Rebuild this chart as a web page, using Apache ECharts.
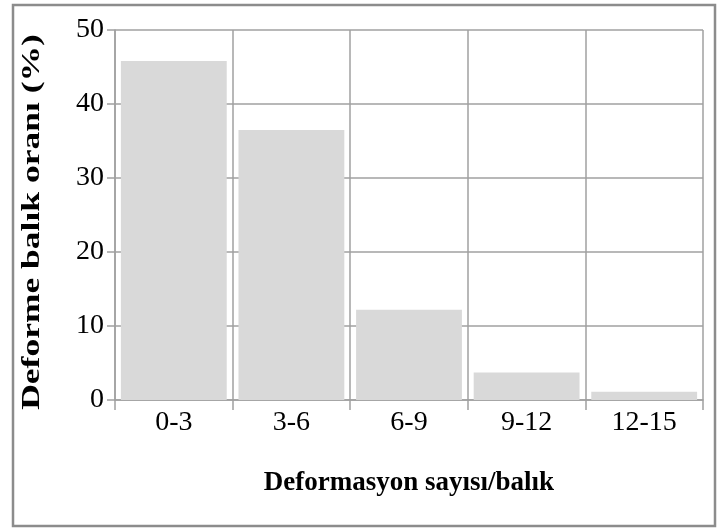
<!DOCTYPE html>
<html>
<head>
<meta charset="utf-8">
<script src="https://cdn.jsdelivr.net/npm/echarts@6/dist/echarts.min.js"></script>
<style>
  html, body { margin: 0; padding: 0; background: #fff; }
  #chart { width: 717px; height: 530px; }
</style>
</head>
<body>
<div id="chart"></div>
<script>
// Deformity count classes per fish and share of deformed fish (%)
const categories = ['0-3', '3-6', '6-9', '9-12', '12-15'];
const deformedShare = [45.8, 36.5, 12.2, 3.7, 1.1];
const yTicks = { min: 0, max: 50, step: 10 };
const xTitle = 'Deformasyon sayısı/balık';
const yTitle = 'Deforme balık oranı (%)';

const serif = '"Liberation Serif", "Times New Roman", serif';
const gridColor = '#a0a0a0';

const chart = echarts.init(document.getElementById('chart'), null, { renderer: 'canvas' });
chart.setOption({
  animation: false,
  backgroundColor: '#fff',
  grid: { left: 115, right: 14, top: 30, bottom: 130, containLabel: false },
  graphic: [
    {
      type: 'rect',
      shape: { x: 13, y: 5, width: 702, height: 521 },
      style: { fill: 'none', stroke: '#8c8c8c', lineWidth: 2.5 },
      z: 0
    },
    {
      // vertical axis title, drawn tall and narrow
      type: 'text',
      x: 33,
      y: 222,
      rotation: Math.PI / 2,
      scaleX: 1.42,
      style: {
        text: yTitle,
        font: 'bold 25px ' + serif,
        fill: '#000',
        align: 'center',
        verticalAlign: 'middle'
      },
      z: 10
    }
  ],
  xAxis: {
    type: 'category',
    data: categories,
    boundaryGap: true,
    name: xTitle,
    nameLocation: 'middle',
    nameGap: 70,
    nameTextStyle: { fontFamily: serif, fontWeight: 'bold', fontSize: 27, color: '#000' },
    axisLine: { lineStyle: { color: gridColor, width: 1.5 } },
    axisTick: { show: true, length: 10, lineStyle: { color: gridColor, width: 1.5 } },
    axisLabel: { fontFamily: serif, fontSize: 28, color: '#000', margin: 9 },
    splitLine: { show: true, lineStyle: { color: gridColor, width: 1.5 } }
  },
  yAxis: {
    type: 'value',
    min: yTicks.min,
    max: yTicks.max,
    interval: yTicks.step,
    axisLine: { show: true, lineStyle: { color: gridColor, width: 1.5 } },
    axisTick: { show: true, length: 8, lineStyle: { color: gridColor, width: 1.5 } },
    axisLabel: { fontFamily: serif, fontSize: 28, color: '#000', margin: 11 },
    splitLine: { show: true, lineStyle: { color: gridColor, width: 1.5 } }
  },
  series: [{
    type: 'bar',
    data: deformedShare,
    barCategoryGap: '10%',
    itemStyle: { color: '#d9d9d9' },
    z: 3
  }]
});
</script>
</body>
</html>
